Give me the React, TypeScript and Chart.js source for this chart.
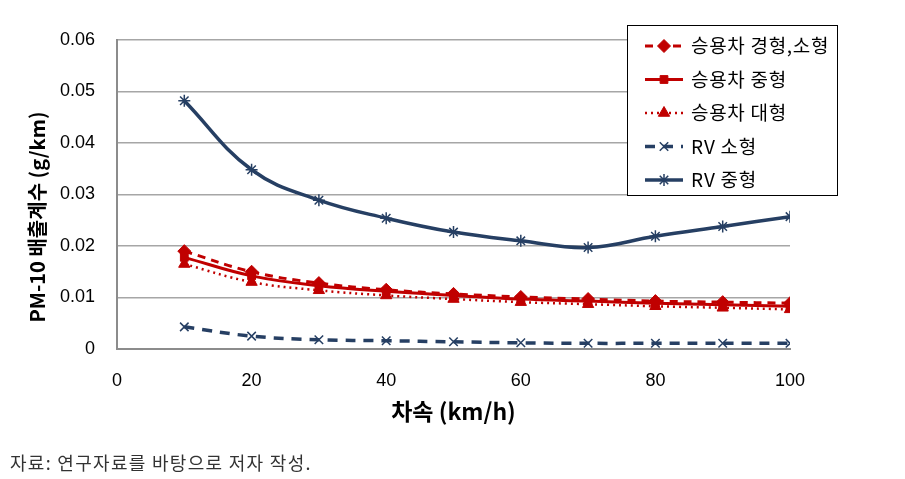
import React, { useEffect, useRef } from "react";
import { Chart, registerables } from "chart.js";
import { drawPoint } from "chart.js/helpers";

Chart.register(...registerables);

const speeds = [10, 20, 30, 40, 50, 60, 70, 80, 90, 100];
const carSmall = [0.0190, 0.0150, 0.0128, 0.0115, 0.0107, 0.0101, 0.0097, 0.0093, 0.0091, 0.0089];
const carMid = [0.0178, 0.0142, 0.0123, 0.0112, 0.0104, 0.0097, 0.0093, 0.0089, 0.0086, 0.0083];
const carLarge = [0.0165, 0.0130, 0.0114, 0.0104, 0.0097, 0.0091, 0.0087, 0.0083, 0.0080, 0.0077];
const rvSmall = [0.0043, 0.0025, 0.0018, 0.0016, 0.0014, 0.0012, 0.0011, 0.0011, 0.0011, 0.0011];
const rvMid = [0.0482, 0.0348, 0.0289, 0.0254, 0.0227, 0.0210, 0.0197, 0.0219, 0.0238, 0.0257];

const seriesNames = ["승용차 경형,소형", "승용차 중형", "승용차 대형", "RV 소형", "RV 중형"];
const xTicks = [0, 20, 40, 60, 80, 100];
const xTickLabels = ["0", "20", "40", "60", "80", "100"];
const yTicks = [0, 0.01, 0.02, 0.03, 0.04, 0.05, 0.06];
const yTickLabels = ["0", "0.01", "0.02", "0.03", "0.04", "0.05", "0.06"];
const xTitle = "차속 (km/h)";
const yTitle = "PM-10 배출계수 (g/km)";
const caption = "자료: 연구자료를 바탕으로 저자 작성.";

const RED = "#C00000";
const NAVY = "#263F63";
const KFONT = "'Noto Sans CJK KR', 'Noto Sans', sans-serif";

const legendPlugin = {
  id: "boxLegend",
  afterDraw(chart: any) {
    const ctx = chart.ctx;
    const bx = 627, by = 25, bw = 210, bh = 170;
    ctx.save();
    ctx.fillStyle = "#ffffff";
    ctx.fillRect(bx, by, bw, bh);
    ctx.strokeStyle = "#000000";
    ctx.lineWidth = 1;
    ctx.strokeRect(bx + 0.5, by + 0.5, bw, bh);
    chart.data.datasets.forEach((ds: any, i: number) => {
      const y = 46 + i * 33.5;
      ctx.save();
      ctx.strokeStyle = ds.borderColor;
      ctx.lineWidth = ds.borderWidth;
      ctx.setLineDash(ds.borderDash || []);
      ctx.lineCap = "butt";
      ctx.beginPath();
      ctx.moveTo(645, y);
      ctx.lineTo(683, y);
      ctx.stroke();
      ctx.restore();
      ctx.save();
      ctx.fillStyle = ds.pointBackgroundColor;
      ctx.strokeStyle = ds.pointBorderColor;
      ctx.lineWidth = ds.pointBorderWidth;
      drawPoint(ctx, { pointStyle: ds.pointStyle, radius: ds.pointRadius, borderWidth: ds.pointBorderWidth, rotation: 0 }, 664, y);
      ctx.restore();
      ctx.save();
      ctx.fillStyle = "#000000";
      ctx.font = `19px ${KFONT}`;
      (ctx as any).letterSpacing = "0.7px";
      ctx.textBaseline = "middle";
      ctx.textAlign = "left";
      ctx.fillText(ds.label, 691, y);
      ctx.restore();
    });
    ctx.restore();
  },
};

const yTitlePlugin = {
  id: "yTitleDraw",
  afterDraw(chart: any) {
    const ctx = chart.ctx;
    ctx.save();
    ctx.translate(37, 217);
    ctx.rotate(-Math.PI / 2);
    ctx.fillStyle = "#000";
    ctx.font = `bold 20px ${KFONT}`;
    ctx.textAlign = "center";
    ctx.textBaseline = "middle";
    ctx.fillText(yTitle, 0, 0);
    ctx.restore();
  },
};

const bgPlugin = {
  id: "whiteBg",
  beforeDraw(chart: any) {
    const ctx = chart.ctx;
    ctx.save();
    ctx.fillStyle = "#ffffff";
    ctx.fillRect(0, 0, chart.width, chart.height);
    ctx.restore();
  },
};

function mk(label: string, data: number[], color: string, dash: number[], width: number, style: string, radius: number, pbw: number) {
  return {
    label,
    data: speeds.map((x, i) => ({ x, y: data[i] })),
    borderColor: color,
    backgroundColor: color,
    borderWidth: width,
    borderDash: dash,
    pointStyle: style,
    pointRadius: radius,
    pointBackgroundColor: color,
    pointBorderColor: color,
    pointBorderWidth: pbw,
    tension: 0.4,
    fill: false,
  };
}

export default function App() {
  const ref = useRef<HTMLCanvasElement>(null);
  useEffect(() => {
    document.body.style.margin = "0";
    const chart = new Chart(ref.current as HTMLCanvasElement, {
      type: "line",
      data: {
        datasets: [
          mk(seriesNames[0], carSmall, RED, [8, 6], 3, "rectRot", 6.5, 1),
          mk(seriesNames[1], carMid, RED, [], 3, "rect", 5.5, 1),
          mk(seriesNames[2], carLarge, RED, [2, 4], 2.5, "triangle", 6.5, 1),
          mk(seriesNames[3], rvSmall, NAVY, [10, 8], 3.5, "crossRot", 6, 1.5),
          mk(seriesNames[4], rvMid, NAVY, [], 3.5, "star", 6, 1.5),
        ] as any,
      },
      options: {
        animation: false,
        responsive: false,
        maintainAspectRatio: false,
        layout: { padding: { left: 27, top: 40, right: 115, bottom: 54 } },
        plugins: { legend: { display: false }, tooltip: { enabled: false } },
        scales: {
          x: {
            type: "linear",
            min: 0,
            max: 100,
            afterBuildTicks: (s: any) => { s.ticks = xTicks.map((v) => ({ value: v })); },
            afterFit: (s: any) => { s.height = 76; },
            ticks: {
              callback: (_v: any, i: number) => xTickLabels[i],
              color: "#000",
              font: { family: "'Liberation Sans', sans-serif", size: 18 },
              padding: 21,
              maxRotation: 0,
            },
            grid: { display: false, drawTicks: false },
            border: { display: true, color: "#8c8c8c", width: 2 },
            title: {
              display: true,
              text: xTitle,
              color: "#000",
              font: { family: KFONT, size: 23, weight: "bold" },
              padding: 0,
            },
          },
          y: {
            type: "linear",
            min: 0,
            max: 0.06,
            afterBuildTicks: (s: any) => { s.ticks = yTicks.map((v) => ({ value: v })); },
            afterFit: (s: any) => { s.width = 90; },
            ticks: {
              callback: (_v: any, i: number) => yTickLabels[i],
              color: "#000",
              font: { family: "'Liberation Sans', sans-serif", size: 18 },
              padding: 22,
            },
            grid: { color: "#a6a6a6", lineWidth: 1.5, drawTicks: false },
            border: { display: true, color: "#8c8c8c", width: 2 },
            title: { display: false },
          },
        },
      } as any,
      plugins: [bgPlugin, legendPlugin, yTitlePlugin],
    });
    return () => chart.destroy();
  }, []);
  return (
    <div style={{ position: "fixed", left: 0, top: 0, width: 905, height: 479, background: "#fff" }}>
      <canvas ref={ref} width={905} height={479} style={{ display: "block" }} />
      <div
        style={{
          position: "absolute",
          left: 10,
          top: 449,
          fontFamily: KFONT,
          fontSize: 18,
          letterSpacing: "1.3px",
          color: "#333",
          whiteSpace: "nowrap",
          lineHeight: "26px",
        }}
      >
        {caption}
      </div>
    </div>
  );
}
